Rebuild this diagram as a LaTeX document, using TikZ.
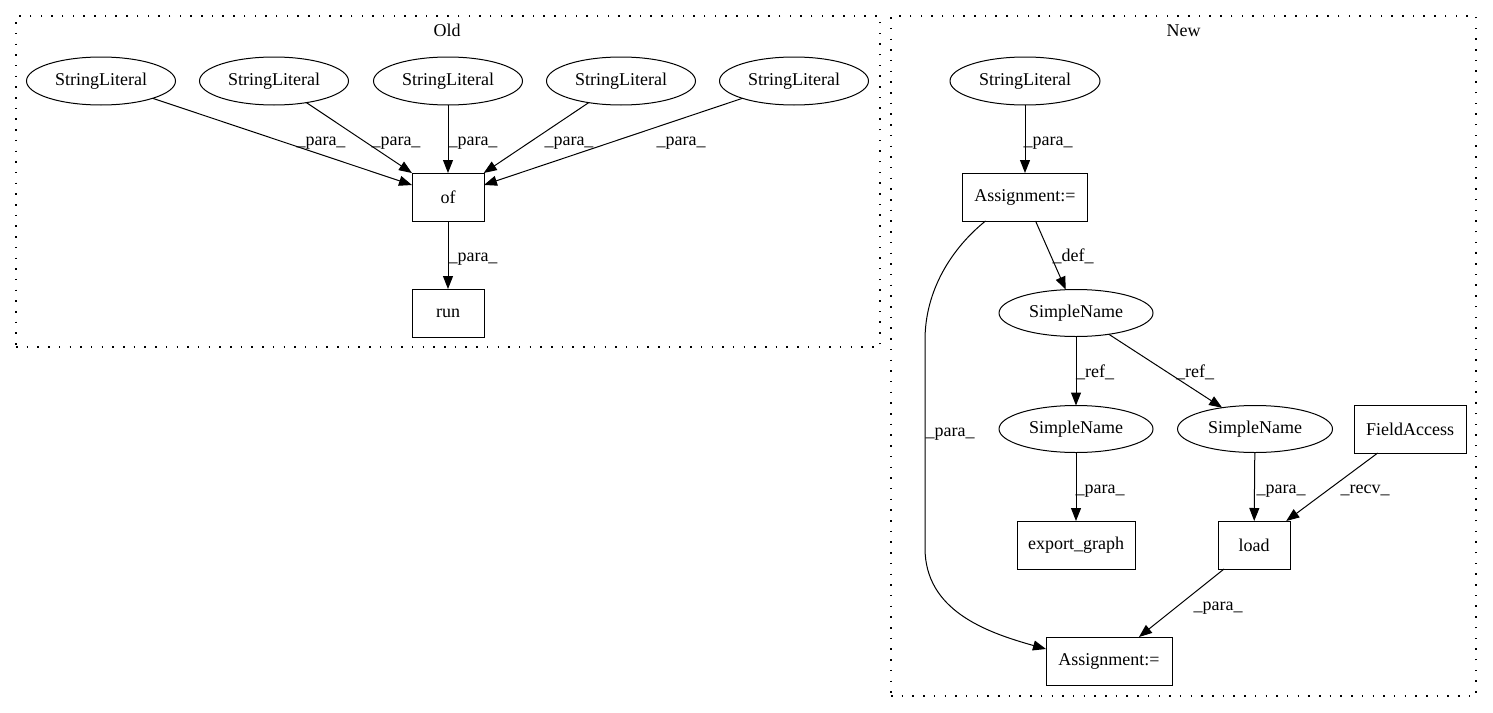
\documentclass[tikz,border=0pt]{standalone}
\usepackage{fontspec}
\setmainfont{Liberation Serif}
\usetikzlibrary{arrows.meta,shapes.geometric}
\begin{document}
\begin{tikzpicture}[x=1pt,y=-1pt,
  font=\fontsize{18}{21}\selectfont,
  every node/.style={inner sep=0pt, outer sep=0pt},
  ell/.style={draw, ellipse, line width=1pt, minimum width=149pt, minimum height=48pt},
  box/.style={draw, rectangle, line width=1pt, minimum height=48pt},
  edge/.style={draw, line width=1pt, -{Triangle[length=13pt,width=10pt]}},
  cluster/.style={draw, line width=1.4pt, dash pattern=on 1.5pt off 9.2pt, rectangle},
  lbl/.style={anchor=base}
]
\useasboundingbox (0,0) rectangle (1493,712);

% clusters
\node[cluster, minimum width=864pt, minimum height=331pt] (oldc) at (448,181.5) {};
\node[lbl] (oldl) at (447,36) {Old};
\node[cluster, minimum width=585pt, minimum height=680pt] (newc) at (1183.5,356) {};
\node[lbl] (newl) at (1183.5,36) {New};

% Old nodes
\node[ell] (s1) at (101,81) {StringLiteral};
\node[ell] (s2) at (274,81) {StringLiteral};
\node[ell] (s3) at (448,81) {StringLiteral};
\node[ell] (s4) at (621,81) {StringLiteral};
\node[ell] (s5) at (794,81) {StringLiteral};
\node[box, minimum width=72pt] (of) at (448,197) {of};
\node[box, minimum width=72pt] (run) at (448,313) {run};

\draw[edge] (s1) -- (of);
\draw[edge] (s2) -- (of);
\draw[edge] (s3) -- (of);
\draw[edge] (s4) -- (of);
\draw[edge] (s5) -- (of);
\draw[edge] (of) -- (run);

\node[lbl] (l1) at (321,145) {\_para\_};
\node[lbl] (l2) at (396,145) {\_para\_};
\node[lbl] (l3) at (473,145) {\_para\_};
\node[lbl] (l4) at (569,145) {\_para\_};
\node[lbl] (l5) at (681,145) {\_para\_};
\node[lbl] (l6) at (473,261) {\_para\_};

% New nodes
\node[ell, minimum width=150pt] (ns) at (1025,81) {StringLiteral};
\node[box, minimum width=125pt] (a1) at (1025,197) {Assignment:=};
\node[ell, minimum width=154pt, minimum height=47pt] (sn1) at (1076,313) {SimpleName};
\node[ell, minimum width=154pt, minimum height=47pt] (sn2) at (1076,429) {SimpleName};
\node[ell, minimum width=155pt, minimum height=47pt] (sn3) at (1255,429) {SimpleName};
\node[box, minimum width=112pt] (fa) at (1410,429) {FieldAccess};
\node[box, minimum width=118pt] (eg) at (1076,545) {export\_graph};
\node[box, minimum width=72pt] (load) at (1254,545) {load};
\node[box, minimum width=126pt] (a2) at (1109,661) {Assignment:=};

\draw[edge] (ns) -- (a1);
\draw[edge] (a1) -- (sn1);
\draw[edge] (sn1) -- (sn2);
\draw[edge] (sn1) -- (sn3);
\draw[edge] (sn2) -- (eg);
\draw[edge] (sn3) -- (load);
\draw[edge] (fa) -- (load);
\draw[edge] (load) -- (a2);
\draw[edge] ([xshift=23pt]a1.south west) .. controls (952,248) and (925,290) .. (925,340)
  -- (925,548) .. controls (925,610) and (985,632) .. ([yshift=12pt]a2.west);

\node[lbl] (m1) at (1048,145) {\_para\_};
\node[lbl] (m2) at (1073,261) {\_def\_};
\node[lbl] (m3) at (1095,377) {\_ref\_};
\node[lbl] (m4) at (1195,377) {\_ref\_};
\node[lbl] (m5) at (950,436) {\_para\_};
\node[lbl] (m6) at (1100,493) {\_para\_};
\node[lbl] (m7) at (1281,493) {\_para\_};
\node[lbl] (m8) at (1365,493) {\_recv\_};
\node[lbl] (m9) at (1218,610) {\_para\_};
\end{tikzpicture}
\end{document}
